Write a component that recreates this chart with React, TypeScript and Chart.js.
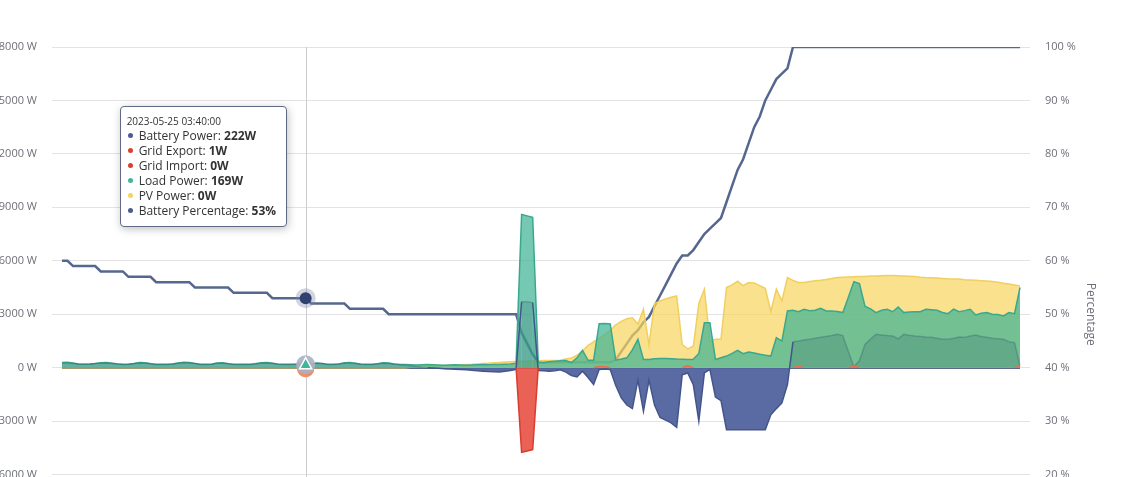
import React, { useEffect, useRef } from 'react';
import { Chart, registerables } from 'chart.js';

Chart.register(...registerables);

// ---------- data ----------
const START_DATE = '2023-05-25';
const STEP_MINUTES = 5;
const HOVER_INDEX = 44;

const batteryPower = [
  240, 250, 230, 210, 200, 210, 230, 250, 260, 240,
  220, 200, 210, 230, 260, 250, 230, 210, 200, 210,
  220, 250, 270, 260, 240, 210, 200, 210, 240, 250,
  230, 210, 200, 200, 210, 230, 250, 260, 240, 220,
  210, 210, 215, 220, 222, 220, 240, 230, 210, 200,
  210, 240, 250, 230, 210, 200, 200, 220, 240, 230,
  200, 160, 130, 100, 60, 20, 0, -20, -40, -60,
  -80, -90, -100, -120, -150, -180, -200, -220, -230, -240,
  -200, -160, -100, 3700, 3700, 3650, -160, -180, -200, -180,
  -120, -250, -450, -520, -200, -550, -950, -100, -80, -100,
  -1000, -1700, -2100, -2300, -700, -2450, -700, -2100, -2800, -2950,
  -3100, -3350, -400, -300, -950, -3000, -300, -100, -1650, -1850,
  -3480, -3480, -3480, -3480, -3480, -3480, -3480, -3480, -2650, -2300,
  -1980, -950, 1450, 1490, 1550, 1600, 1650, 1700, 1750, 1800,
  1870, 1800, 900, 50, 400, 1300, 1600, 1870, 1830, 1800,
  1775, 1620, 1870, 1820, 1780, 1750, 1720, 1700, 1650, 1600,
  1590, 1650, 1720, 1700, 1780, 1830, 1750, 1700, 1650, 1620,
  1590, 1460, 1400, 100,
];

const gridExport = [
  0, 0, 0, 0, 0, 0, 0, 0, 0, 0,
  0, 0, 0, 0, 0, 0, 0, 0, 0, 0,
  0, 0, 0, 0, 0, 0, 0, 0, 0, 0,
  0, 0, 0, 0, 0, 0, 0, 0, 0, 0,
  0, 0, 0, 0, 1, 0, 0, 0, 0, 0,
  0, 0, 0, 0, 0, 0, 0, 0, 0, 0,
  0, 0, 0, 0, 0, 0, 0, 0, 0, 0,
  0, 0, 0, 0, 0, 0, 0, 0, 0, 0,
  0, 0, 0, 4750, 4680, 4600, 0, 0, 0, 0,
  0, 0, 0, 0, 0, 0, 0, 0, 0, 0,
  0, 0, 0, 0, 0, 0, 0, 0, 0, 0,
  0, 0, 0, 0, 0, 0, 0, 0, 0, 0,
  0, 0, 0, 0, 0, 0, 0, 0, 0, 0,
  0, 0, 0, 0, 0, 0, 0, 0, 0, 0,
  0, 0, 0, 0, 0, 0, 0, 0, 0, 0,
  0, 0, 0, 0, 0, 0, 0, 0, 0, 0,
  0, 0, 0, 0, 0, 0, 0, 0, 0, 0,
  0, 0, 0, 0,
];

const gridImport = [
  0, 0, 0, 0, 0, 0, 0, 0, 0, 0,
  0, 0, 0, 0, 0, 0, 0, 0, 0, 0,
  0, 0, 0, 0, 0, 0, 0, 0, 0, 0,
  0, 0, 0, 0, 0, 0, 0, 0, 0, 0,
  0, 0, 0, 0, 0, 0, 0, 0, 0, 0,
  0, 0, 0, 0, 0, 0, 0, 0, 0, 0,
  0, 0, 0, 0, 0, 0, 0, 0, 0, 0,
  0, 0, 0, 0, 0, 0, 0, 0, 0, 0,
  0, 0, 0, 0, 0, 0, 0, 0, 0, 0,
  0, 0, 0, 0, 0, 0, 0, 60, 60, 0,
  0, 0, 0, 0, 0, 0, 0, 0, 0, 0,
  0, 0, 0, 120, 0, 0, 0, 0, 0, 0,
  0, 0, 0, 0, 0, 0, 0, 0, 0, 0,
  0, 0, 0, 80, 0, 0, 0, 0, 0, 0,
  0, 0, 0, 90, 0, 0, 0, 0, 0, 0,
  0, 0, 0, 0, 0, 0, 0, 0, 0, 0,
  0, 0, 0, 0, 0, 0, 0, 0, 0, 0,
  0, 0, 0, 80,
];

const loadPower = [
  290, 300, 260, 200, 190, 200, 230, 280, 290, 250,
  200, 180, 190, 230, 290, 280, 220, 180, 170, 180,
  200, 260, 300, 290, 230, 180, 170, 190, 260, 280,
  220, 180, 170, 170, 180, 220, 280, 290, 240, 190,
  170, 170, 180, 190, 169, 200, 260, 230, 180, 170,
  200, 270, 290, 240, 190, 170, 180, 220, 270, 260,
  210, 180, 170, 160, 150, 160, 170, 160, 150, 140,
  150, 160, 150, 140, 150, 160, 170, 160, 170, 180,
  190, 200, 250, 8600, 8520, 8440, 300, 280, 330, 360,
  380, 400, 280, 550, 970, 410, 420, 2470, 2480, 2450,
  420, 480, 550, 1000, 1590, 460, 460, 500, 520, 520,
  500, 480, 470, 460, 470, 800, 2520, 2520, 460, 560,
  650, 800, 970, 780, 880, 820, 750, 700, 650, 1680,
  1490, 3180, 3220, 3140, 3280, 3200, 3220, 3330, 3180, 3180,
  3150, 3090, 3950, 4830, 4720, 3450, 3300, 3090, 3220, 3280,
  3140, 3400, 3090, 3120, 3140, 3140, 3280, 3250, 3220, 3100,
  3030, 3280, 3140, 3200, 3280, 2960, 3050, 3090, 3000, 2980,
  2900, 3090, 3030, 4500,
];

const pvPower = [
  0, 0, 0, 0, 0, 0, 0, 0, 0, 0,
  0, 0, 0, 0, 0, 0, 0, 0, 0, 0,
  0, 0, 0, 0, 0, 0, 0, 0, 0, 0,
  0, 0, 0, 0, 0, 0, 0, 0, 0, 0,
  0, 0, 0, 0, 0, 0, 0, 0, 0, 0,
  0, 0, 0, 0, 0, 0, 0, 0, 0, 0,
  0, 0, 0, 20, 40, 60, 80, 90, 100, 120,
  130, 150, 160, 180, 190, 210, 230, 250, 270, 290,
  310, 330, 340, 350, 360, 370, 390, 400, 400, 405,
  420, 480, 540, 700, 950, 1250, 1450, 1650, 1850, 2100,
  2400, 2600, 2750, 2800, 2450, 3280, 1300, 3600, 3750, 3850,
  3950, 4030, 1300, 1050, 1200, 3600, 4400, 1500, 1590, 1600,
  4500, 4650, 4850, 4600, 4780, 4750, 4600, 4450, 3150, 4400,
  3750, 5060, 4900, 4780, 4780, 4830, 4880, 4910, 4950, 5000,
  5060, 5080, 5090, 5100, 5110, 5120, 5140, 5150, 5160, 5170,
  5170, 5160, 5150, 5130, 5110, 5080, 5060, 5050, 5030, 5010,
  4990, 4980, 4970, 4940, 4920, 4900, 4880, 4860, 4830, 4790,
  4740, 4690, 4640, 4590,
];

const batteryPercentage = [
  60, 60, 59, 59, 59, 59, 59, 58, 58, 58,
  58, 58, 57, 57, 57, 57, 57, 56, 56, 56,
  56, 56, 56, 56, 55, 55, 55, 55, 55, 55,
  55, 54, 54, 54, 54, 54, 54, 54, 53, 53,
  53, 53, 53, 53, 53, 52, 52, 52, 52, 52,
  52, 52, 51, 51, 51, 51, 51, 51, 51, 50,
  50, 50, 50, 50, 50, 50, 50, 50, 50, 50,
  50, 50, 50, 50, 50, 50, 50, 50, 50, 50,
  50, 50, 50, 46.5, 44.5, 42.5, 41, 41, 41, 41,
  41, 41, 41, 41, 41, 41, 41, 41, 41, 41,
  41.5, 43, 44.5, 46, 47, 48.5, 49.5, 51.5, 53.5, 55.5,
  57.5, 59.5, 61, 61, 62, 63.5, 65, 66, 67, 68,
  71, 74, 77, 79, 82, 85, 87, 90, 92, 94,
  95, 96, 100, 100, 100, 100, 100, 100, 100, 100,
  100, 100, 100, 100, 100, 100, 100, 100, 100, 100,
  100, 100, 100, 100, 100, 100, 100, 100, 100, 100,
  100, 100, 100, 100, 100, 100, 100, 100, 100, 100,
  100, 100, 100, 100,
];

const powerAxis = { min: -12000, max: 18000, step: 3000, unit: 'W' };
const percentAxis = { min: 0, max: 100, step: 10, unit: '%' };

const N = batteryPower.length;
const timeLabels = batteryPower.map((_, i) => {
  const m = i * STEP_MINUTES;
  const hh = String(Math.floor(m / 60)).padStart(2, '0');
  const mm = String(m % 60).padStart(2, '0');
  return `${START_DATE} ${hh}:${mm}:00`;
});

// ---------- style ----------
const FONT = "'Open Sans', 'Noto Sans', sans-serif";
const CANVAS_LEFT = -8;
const CANVAS_W = 1109;
const CANVAS_H = 603;
const X_PAD = 1.8;

const SERIES = [
  { label: 'Battery Power', values: batteryPower, unit: 'W', color: '#4a5b8f' },
  { label: 'Grid Export', values: gridExport, unit: 'W', color: '#d9412f' },
  { label: 'Grid Import', values: gridImport, unit: 'W', color: '#d9412f' },
  { label: 'Load Power', values: loadPower, unit: 'W', color: '#43b59b' },
  { label: 'PV Power', values: pvPower, unit: 'W', color: '#f5d35b' },
  { label: 'Battery Percentage', values: batteryPercentage, unit: '%', color: '#4a5b8f' },
];

const pts = (arr: number[], sign = 1) => arr.map((v, i) => ({ x: i, y: sign * v }));
const nonZeroSeg = (color: string) => (ctx: any) =>
  ctx.p0.parsed.y === 0 && ctx.p1.parsed.y === 0 ? 'rgba(0,0,0,0)' : color;

const hoverPlugin = {
  id: 'hoverMarks',
  beforeDatasetsDraw(chart: any) {
    const { ctx, chartArea, scales } = chart;
    const xs = scales.x;
    const ys = scales.y;
    ctx.save();
    const y0 = Math.round(ys.getPixelForValue(0)) + 0.5;
    ctx.strokeStyle = '#5d6787';
    ctx.lineWidth = 1;
    ctx.beginPath();
    ctx.moveTo(xs.getPixelForValue(0), y0);
    ctx.lineTo(xs.getPixelForValue(N - 1), y0);
    ctx.stroke();
    const act = chart.getActiveElements();
    if (act.length) {
      const x = Math.round(act[0].element.x) + 0.5;
      ctx.strokeStyle = '#cccccc';
      ctx.beginPath();
      ctx.moveTo(x, chartArea.top);
      ctx.lineTo(x, chartArea.bottom);
      ctx.stroke();
    }
    ctx.restore();
  },
  afterDatasetsDraw(chart: any) {
    const { ctx } = chart;
    const act = chart.getActiveElements();
    if (!act.length) return;
    const el: any = {};
    act.forEach((a: any) => { el[a.datasetIndex] = a.element; });
    const circle = (x: number, y: number, r: number, fill: string) => {
      ctx.beginPath();
      ctx.arc(x, y, r, 0, Math.PI * 2);
      ctx.fillStyle = fill;
      ctx.fill();
    };
    ctx.save();
    [1, 2].forEach((d) => { if (el[d]) circle(el[d].x, el[d].y + 1, 8.5, 'rgba(238,140,104,0.85)'); });
    const L = el[3];
    if (L) {
      circle(L.x, L.y, 9.5, 'rgba(168,178,196,0.9)');
      ctx.beginPath();
      ctx.moveTo(L.x, L.y - 7);
      ctx.lineTo(L.x - 6, L.y + 4);
      ctx.lineTo(L.x + 6, L.y + 4);
      ctx.closePath();
      ctx.fillStyle = '#3fb59b';
      ctx.fill();
      ctx.strokeStyle = '#ffffff';
      ctx.lineWidth = 1.5;
      ctx.stroke();
    }
    const P = el[5];
    if (P) {
      circle(P.x, P.y, 10, 'rgba(120,135,170,0.35)');
      circle(P.x, P.y, 6, '#2f4071');
    }
    ctx.restore();
  },
};

export default function App() {
  const canvasRef = useRef<HTMLCanvasElement | null>(null);
  const tipRef = useRef<HTMLDivElement | null>(null);

  useEffect(() => {
    if (!canvasRef.current) return;
    Chart.defaults.font.family = FONT;

    const common = { pointRadius: 0, pointHoverRadius: 0, tension: 0 };

    const chart = new Chart(canvasRef.current, {
      type: 'line',
      data: {
        datasets: [
          {
            ...common,
            label: SERIES[0].label,
            data: pts(batteryPower),
            yAxisID: 'y',
            order: 3,
            borderWidth: 1.5,
            borderColor: '#44558a',
            segment: {
              borderColor: (ctx: any) =>
                ctx.p0.parsed.y < 0 || ctx.p1.parsed.y < 0 ? '#44558a' : 'rgba(45,80,105,0.3)',
            },
            fill: { target: 'origin', above: 'rgba(40,90,95,0.22)', below: 'rgba(82,101,158,0.96)' },
          },
          {
            ...common,
            label: SERIES[1].label,
            data: pts(gridExport, -1),
            yAxisID: 'y',
            order: 2,
            borderWidth: 1.5,
            borderColor: '#d63f30',
            segment: { borderColor: nonZeroSeg('#d63f30') },
            fill: { target: 'origin', above: 'rgba(232,80,66,0.9)', below: 'rgba(232,80,66,0.9)' },
          },
          {
            ...common,
            label: SERIES[2].label,
            data: pts(gridImport),
            yAxisID: 'y',
            order: 1,
            borderWidth: 1.5,
            borderColor: '#e8704f',
            segment: { borderColor: nonZeroSeg('#e8704f') },
            fill: { target: 'origin', above: 'rgba(236,110,80,0.8)', below: 'rgba(236,110,80,0.8)' },
          },
          {
            ...common,
            label: SERIES[3].label,
            data: pts(loadPower),
            yAxisID: 'y',
            order: 4,
            borderWidth: 1.5,
            borderColor: '#3aa88e',
            backgroundColor: 'rgba(64,180,150,0.72)',
            fill: 'origin',
          },
          {
            ...common,
            label: SERIES[4].label,
            data: pts(pvPower),
            yAxisID: 'y',
            order: 5,
            borderWidth: 1.5,
            borderColor: 'rgba(240,205,90,0.95)',
            backgroundColor: 'rgba(246,212,92,0.7)',
            fill: 'origin',
          },
          {
            ...common,
            label: SERIES[5].label,
            data: pts(batteryPercentage),
            yAxisID: 'y1',
            order: 6,
            borderWidth: 2.5,
            borderColor: '#56678f',
            fill: false,
          },
        ],
      },
      options: {
        animation: false,
        responsive: false,
        events: [],
        layout: { padding: { top: 47, bottom: 14, left: 0, right: 0 } },
        plugins: {
          legend: { display: false },
          tooltip: {
            enabled: false,
            external: ({ chart: c, tooltip }: any) => {
              const box = tipRef.current;
              if (!box) return;
              const items = [...(tooltip.dataPoints || [])].sort(
                (a: any, b: any) => a.datasetIndex - b.datasetIndex,
              );
              if (!items.length) {
                box.style.display = 'none';
                return;
              }
              const idx = items[0].dataIndex;
              let html = `<div style="font-size:10px;line-height:13px;color:#333">${timeLabels[idx]}</div>`;
              items.forEach((it: any) => {
                const s = SERIES[it.datasetIndex];
                html += `<div style="white-space:nowrap"><span style="display:inline-block;width:5px;height:5px;border-radius:50%;background:${s.color};margin:0 6px 0 1px;vertical-align:middle;position:relative;top:-1px"></span>${s.label}: <b style="font-weight:700">${s.values[idx]}${s.unit}</b></div>`;
              });
              box.innerHTML = html;
              box.style.display = 'block';
              const ex = items[0].element.x;
              box.style.left = `${CANVAS_LEFT + ex - box.offsetWidth - 19}px`;
              box.style.top = `${c.chartArea.top + 59}px`;
            },
          },
        },
        scales: {
          x: { type: 'linear', min: -X_PAD, max: N - 1 + X_PAD, display: false },
          y: {
            position: 'left',
            min: powerAxis.min,
            max: powerAxis.max,
            ticks: {
              stepSize: powerAxis.step,
              callback: (v: any) => `${v} ${powerAxis.unit}`,
              color: '#6e7079',
              font: { family: FONT, size: 11 },
              padding: 15,
            },
            grid: { color: '#e3e3e3', drawTicks: false, lineWidth: 1 },
            border: { display: false },
            afterFit: (s: any) => { s.width = 60; },
          },
          y1: {
            position: 'right',
            min: percentAxis.min,
            max: percentAxis.max,
            ticks: {
              stepSize: percentAxis.step,
              callback: (v: any) => `${v} ${percentAxis.unit}`,
              color: '#6e7079',
              font: { family: FONT, size: 11 },
              padding: 15,
            },
            grid: { display: false, drawTicks: false },
            border: { display: false },
            title: {
              display: true,
              text: 'Percentage',
              color: '#6e7079',
              font: { family: FONT, size: 12 },
              padding: { top: 3, bottom: 0 },
            },
            afterFit: (s: any) => { s.width = 71; },
          },
        },
      },
      plugins: [hoverPlugin],
    } as any);

    const active = SERIES.map((_, di) => ({ datasetIndex: di, index: HOVER_INDEX }));
    chart.setActiveElements(active);
    const e = chart.getDatasetMeta(0).data[HOVER_INDEX] as any;
    chart.tooltip?.setActiveElements(active, { x: e.x, y: e.y });
    chart.update();

    return () => {
      chart.destroy();
      if (tipRef.current) tipRef.current.style.display = 'none';
    };
  }, []);

  return (
    <div
      style={{
        position: 'fixed',
        left: 0,
        top: 0,
        width: 1132,
        height: 477,
        overflow: 'hidden',
        background: '#fff',
      }}
    >
      <div style={{ position: 'absolute', left: CANVAS_LEFT, top: 0, width: CANVAS_W, height: CANVAS_H }}>
        <canvas ref={canvasRef} width={CANVAS_W} height={CANVAS_H} style={{ display: 'block' }} />
      </div>
      <div
        ref={tipRef}
        style={{
          position: 'absolute',
          display: 'none',
          background: '#fff',
          border: '1px solid #5e6a86',
          borderRadius: 4,
          boxShadow: '1px 2px 8px rgba(0,0,0,0.25)',
          padding: '8px 10px 8px 6px',
          fontFamily: FONT,
          fontSize: 12,
          lineHeight: '15px',
          color: '#333',
          pointerEvents: 'none',
        }}
      />
    </div>
  );
}
